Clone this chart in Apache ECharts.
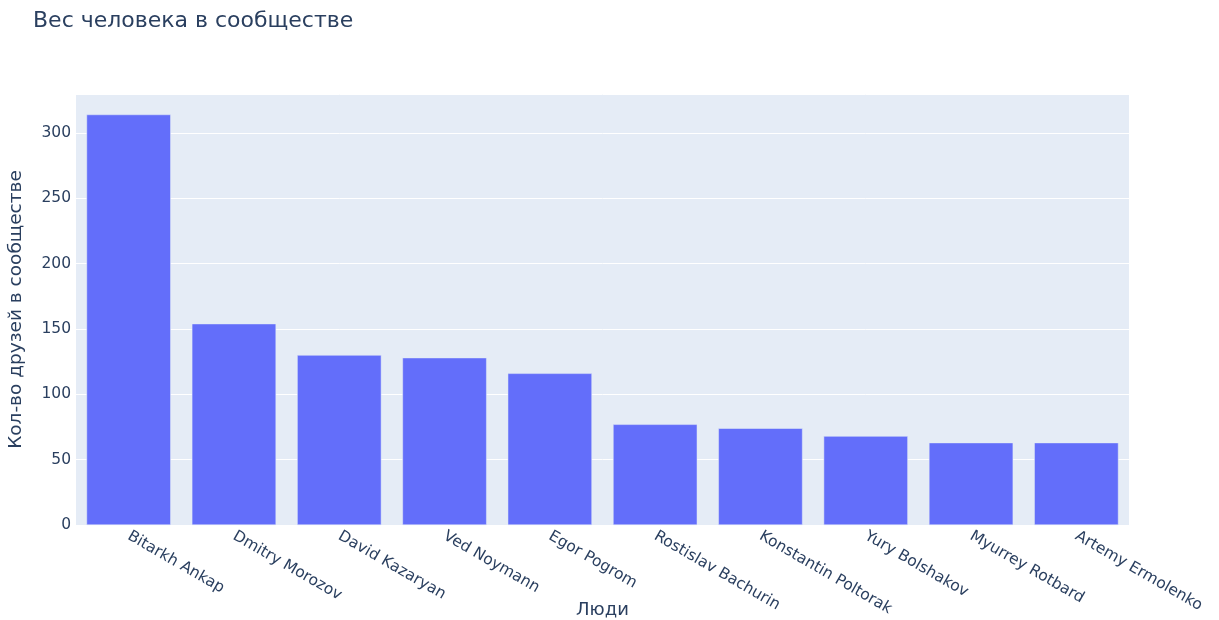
<!DOCTYPE html>
<html>
<head>
<meta charset="utf-8">
<script src="https://cdn.jsdelivr.net/npm/echarts@6/dist/echarts.min.js"></script>
<style>html,body{margin:0;padding:0;background:#fff}#c{width:1219px;height:620px}</style>
</head>
<body>
<div id="c"></div>
<script>
const categories = ["Bitarkh Ankap","Dmitry Morozov","David Kazaryan","Ved Noymann","Egor Pogrom","Rostislav Bachurin","Konstantin Poltorak","Yury Bolshakov","Myurrey Rotbard","Artemy Ermolenko"];
const values = [314,154,130,128,116,77,74,68,63,63];
const yTicks = [0,50,100,150,200,250,300];

const chart = echarts.init(document.getElementById('c'));
const font = '"DejaVu Sans", Verdana, sans-serif';
chart.setOption({
  backgroundColor: '#fff',
  animation: false,
  title: {
    text: 'Вес человека в сообществе',
    left: 28, top: 5,
    textStyle: {fontFamily: font, fontSize: 22, fontWeight: 'normal', color: '#2a3f5f'}
  },
  grid: {left: 76, right: 90, top: 94, bottom: 95, show: true, backgroundColor: '#E5ECF6', borderWidth: 0, containLabel: false, outerBoundsMode: 'none'},
  xAxis: {
    type: 'category',
    data: categories,
    name: 'Люди',
    nameLocation: 'middle',
    nameGap: 76,
    nameMoveOverlap: false,
    nameTextStyle: {fontFamily: font, fontSize: 18, color: '#2a3f5f'},
    axisLine: {show: false},
    axisTick: {show: false},
    axisLabel: {rotate: -30, fontFamily: font, fontSize: 15.5, color: '#2a3f5f', margin: 10, interval: 0}
  },
  yAxis: {
    type: 'value',
    min: 0, max: 329.7, interval: 50,
    name: 'Кол-во друзей в сообществе',
    nameLocation: 'middle',
    nameGap: 50,
    nameMoveOverlap: false,
    nameTextStyle: {fontFamily: font, fontSize: 18.5, color: '#2a3f5f'},
    axisLine: {show: false},
    axisTick: {show: false},
    axisLabel: {fontFamily: font, fontSize: 15.5, color: '#2a3f5f', margin: 5,
      formatter: v => yTicks.includes(v) ? String(v) : ''},
    splitLine: {lineStyle: {color: '#ffffff', width: 1}}
  },
  series: [{
    type: 'bar',
    data: values,
    barCategoryGap: '20%',
    itemStyle: {color: '#636efa', borderColor: '#E5ECF6', borderWidth: 0.5}
  }]
});
</script>
</body>
</html>
